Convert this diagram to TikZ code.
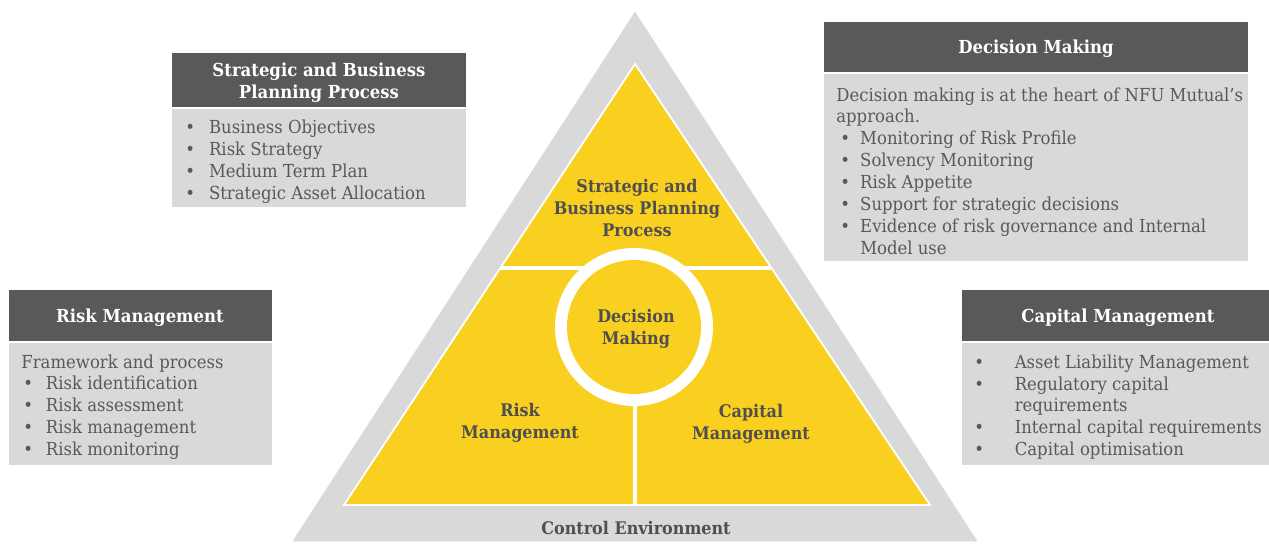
\documentclass[tikz,border=0pt]{standalone}
\usepackage{fontspec}
\setmainfont{DejaVu Serif}[FakeStretch=0.92]
\usepackage{xcolor}
\usetikzlibrary{positioning}
\definecolor{hdr_gray}{HTML}{58595B}
\definecolor{body_gray}{HTML}{D9D9D9}
\definecolor{tri_gray}{HTML}{D9D9D9}
\definecolor{nfu_yellow}{HTML}{F9D01F}
\definecolor{txt_gray}{HTML}{595959}
\definecolor{lbl_gray}{HTML}{4F4F51}

\newcommand{\itm}[2]{\hspace*{#1}\makebox[#2][l]{\textbullet}}

\tikzset{
  hdrtxt/.style={text=white, font=\bfseries\fontsize{10.2}{12.47}\selectfont, align=center, inner sep=0pt},
  bodytxt/.style={anchor=west, text=txt_gray, font=\fontsize{10.2}{12.47}\selectfont, align=left, inner sep=0pt},
  trilbl/.style={text=lbl_gray, font=\bfseries\fontsize{9.9}{12.47}\selectfont, align=center, inner sep=0pt}
}

\begin{document}
\begin{tikzpicture}[x=0.02cm, y=-0.02cm]
    \useasboundingbox (0,0) rectangle (1269,545);

    % Control environment - outer grey triangle
    \fill[tri_gray] (635,10) -- (979,542) -- (291,542) -- cycle;
    \draw[white, line width=0.8pt] (635,10) -- (979,542) -- (291,542) -- cycle;

    % Yellow triangle split in three parts
    \begin{scope}
      \clip (635,64) -- (930,505) -- (344,505) -- cycle;
      \fill[nfu_yellow] (635,64) -- (930,505) -- (344,505) -- cycle;
      \draw[white, line width=2.8pt] (400,268) -- (870,268);
      \draw[white, line width=2.2pt] (635,327) -- (635,520);
    \end{scope}
    \draw[white, line width=1pt] (635,64) -- (930,505) -- (344,505) -- cycle;

    % Decision making circle in the middle
    \fill[white] (634,327) circle (79);
    \fill[nfu_yellow] (634,327) circle (67);

    % Labels inside the triangle
    \node[trilbl] (triSbp) at (637,208) {Strategic and\\Business Planning\\Process};
    \node[trilbl] (triDm) at (636,329) {Decision\\Making};
    \node[trilbl] (triRm) at (520,423) {Risk\\Management};
    \node[trilbl] (triCm) at (751,424) {Capital\\Management};
    \node[trilbl] (triCe) at (636,528) {Control Environment};

    % Strategic and Business Planning Process box
    \fill[hdr_gray] (172,53) rectangle (466,107);
    \fill[body_gray] (172,109) rectangle (466,207);
    \node[hdrtxt] (sbpHead) at (319,83) {Strategic and Business\\Planning Process};
    \node[bodytxt] (sbpBody) at (185,162) {%
      \itm{0pt}{13.5pt}Business Objectives\\
      \itm{0pt}{13.5pt}Risk Strategy\\
      \itm{0pt}{13.5pt}Medium Term Plan\\
      \itm{0pt}{13.5pt}Strategic Asset Allocation};

    % Decision Making box
    \fill[hdr_gray] (824,22) rectangle (1248,72);
    \fill[body_gray] (824,74) rectangle (1248,261);
    \node[hdrtxt] (dmHead) at (1036,49) {Decision Making};
    \node[bodytxt] (dmBody) at (836,171) {%
      Decision making is at the heart of NFU Mutual’s\\
      approach.\\
      \itm{2.3pt}{11.3pt}Monitoring of Risk Profile\\
      \itm{2.3pt}{11.3pt}Solvency Monitoring\\
      \itm{2.3pt}{11.3pt}Risk Appetite\\
      \itm{2.3pt}{11.3pt}Support for strategic decisions\\
      \itm{2.3pt}{11.3pt}Evidence of risk governance and Internal\\
      \hspace*{13.6pt}Model use};

    % Risk Management box
    \fill[hdr_gray] (9,290) rectangle (272,341);
    \fill[body_gray] (9,343) rectangle (272,465);
    \node[hdrtxt] (rmHead) at (140,318) {Risk Management};
    \node[bodytxt] (rmBody) at (21,407) {%
      Framework and process\\
      \itm{1.2pt}{12.8pt}Risk identification\\
      \itm{1.2pt}{12.8pt}Risk assessment\\
      \itm{1.2pt}{12.8pt}Risk management\\
      \itm{1.2pt}{12.8pt}Risk monitoring};

    % Capital Management box
    \fill[hdr_gray] (962,290) rectangle (1269,341);
    \fill[body_gray] (962,343) rectangle (1269,465);
    \node[hdrtxt] (cmHead) at (1118,318) {Capital Management};
    \node[bodytxt] (cmBody) at (974,407) {%
      \itm{0pt}{23pt}Asset Liability Management\\
      \itm{0pt}{23pt}Regulatory capital\\
      \hspace*{23pt}requirements\\
      \itm{0pt}{23pt}Internal capital requirements\\
      \itm{0pt}{23pt}Capital optimisation};
\end{tikzpicture}
\end{document}
